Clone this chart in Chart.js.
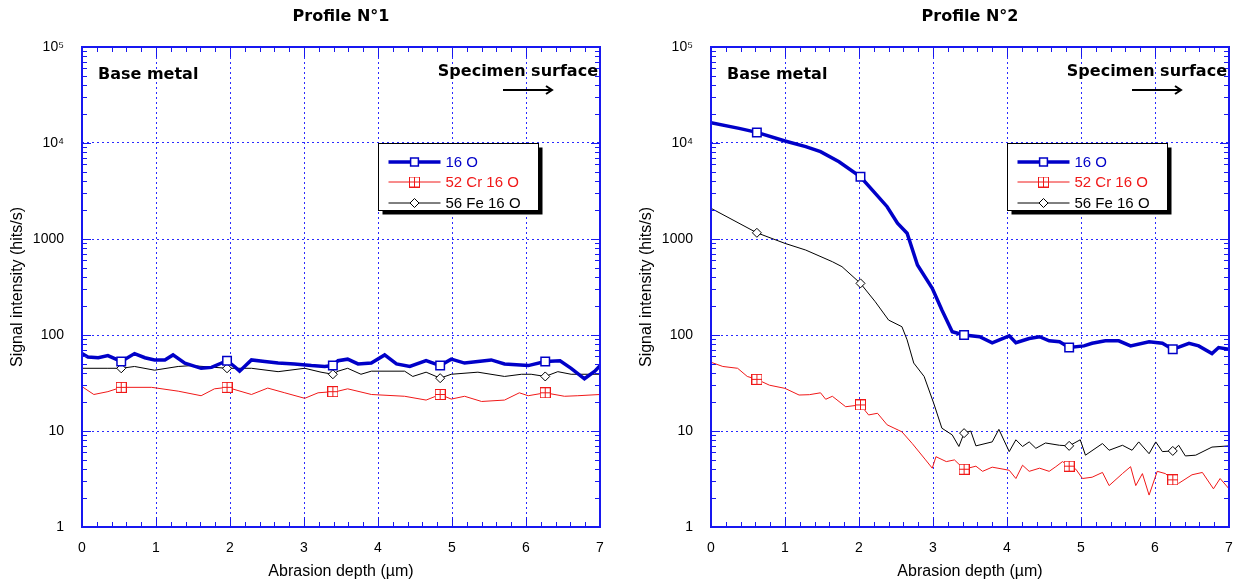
<!DOCTYPE html>
<html>
<head>
<meta charset="utf-8">
<script src="https://cdn.jsdelivr.net/npm/chart.js@4.4.0/dist/chart.umd.min.js"></script>
<style>
  html, body { margin: 0; padding: 0; background: #fff; overflow: hidden; }
  .panel { position: absolute; top: 0; width: 618px; height: 582px; }
  #panel1 { left: 0; }
  #panel2 { left: 629px; }
</style>
</head>
<body>
<div class="panel" id="panel1"><canvas id="chart1" width="618" height="582"></canvas></div>
<div class="panel" id="panel2"><canvas id="chart2" width="618" height="582"></canvas></div>
<script>
// axis ticks
const yTickValues = [1, 10, 100, 1000, 10000, 100000];
const yTickLabels = ['1', '10', '100', '1000', '10⁴', '10⁵'];

// Profile N°1
const p1Markers = [0.53, 1.96, 3.39, 4.84, 6.26];
const p1ODepth = [0, 0.08, 0.22, 0.35, 0.53, 0.71, 0.85, 0.98, 1.12, 1.23, 1.39, 1.61, 1.75, 1.96, 2.06, 2.13, 2.29, 2.47, 2.65, 2.87, 3.1, 3.28, 3.39, 3.46, 3.59, 3.73, 3.91, 4.09, 4.25, 4.43, 4.65, 4.84, 4.99, 5.17, 5.35, 5.53, 5.71, 6.03, 6.26, 6.46, 6.61, 6.79, 6.93, 7.0];
const p1O = [64, 59, 58, 61, 53, 64, 58, 55, 55, 62, 51, 45, 46, 54, 47, 42, 55, 53, 51, 50, 48, 47, 48, 54, 56, 50, 51, 62, 50, 47, 54, 48, 56, 51, 53, 55, 50, 48, 53, 54, 45, 35, 42, 48];
const p1CrODepth = [0, 0.16, 0.35, 0.53, 0.94, 1.3, 1.61, 1.79, 1.96, 2.29, 2.51, 2.74, 3.01, 3.19, 3.39, 3.46, 3.59, 3.91, 4.36, 4.65, 4.84, 4.99, 5.17, 5.4, 5.71, 5.91, 6.03, 6.26, 6.52, 6.7, 7.0];
const p1CrO = [29, 24, 25.7, 28.5, 28.5, 26, 23.3, 27.5, 28.5, 24, 28, 25, 21.9, 25, 25.7, 26, 27.5, 24, 23, 21, 24, 21.5, 23, 20.3, 21, 25, 23.3, 25, 23, 23.3, 24];
const p1FeODepth = [0, 0.35, 0.53, 0.71, 0.98, 1.3, 1.48, 1.96, 2.29, 2.65, 3.01, 3.23, 3.39, 3.46, 3.59, 3.77, 3.91, 4.36, 4.47, 4.65, 4.84, 4.99, 5.35, 5.71, 5.94, 6.07, 6.26, 6.43, 6.61, 7.0];
const p1FeO = [45, 45, 45, 47, 43, 47, 48, 45, 45, 41.5, 45, 41, 39, 42, 45, 39, 42, 42, 37, 41, 35.5, 39, 41, 37, 39, 39, 37, 41.5, 39, 39];

// Profile N°2
const p2Markers = [0.62, 2.02, 3.42, 4.84, 6.24];
const p2ODepth = [0, 0.38, 0.62, 1.0, 1.28, 1.48, 1.73, 2.02, 2.22, 2.38, 2.52, 2.65, 2.79, 2.99, 3.12, 3.26, 3.42, 3.63, 3.80, 4.03, 4.12, 4.30, 4.44, 4.57, 4.71, 4.84, 5.04, 5.15, 5.33, 5.51, 5.67, 5.92, 6.10, 6.24, 6.46, 6.59, 6.77, 6.86, 7.0];
const p2O = [16300, 14200, 12900, 10500, 9160, 8130, 6380, 4450, 2990, 2170, 1460, 1150, 536, 306, 182, 108, 100, 96, 83, 98, 83, 92, 96, 87, 85, 74, 77, 82, 87, 87, 77, 85, 82, 71, 82, 77, 64, 74, 71];
const p2CrODepth = [0, 0.16, 0.36, 0.49, 0.62, 0.79, 1.0, 1.19, 1.33, 1.48, 1.55, 1.64, 1.82, 2.02, 2.13, 2.25, 2.38, 2.58, 2.72, 2.90, 2.99, 3.04, 3.18, 3.29, 3.42, 3.58, 3.67, 3.80, 4.03, 4.12, 4.21, 4.30, 4.44, 4.57, 4.66, 4.75, 4.84, 4.93, 5.02, 5.15, 5.29, 5.38, 5.56, 5.67, 5.74, 5.83, 5.92, 6.03, 6.14, 6.24, 6.32, 6.50, 6.64, 6.79, 6.88, 7.0];
const p2CrO = [52, 47, 45, 37, 34.5, 30, 27.8, 23.7, 23.9, 25, 21.4, 23, 17.9, 18.7, 14.7, 15.3, 11.6, 9.8, 7.4, 5.0, 4.1, 5.4, 4.8, 5.0, 4.0, 4.3, 3.8, 4.2, 3.9, 3.2, 4.4, 3.8, 4.1, 3.8, 4.25, 4.8, 4.3, 4.0, 3.2, 3.3, 3.7, 2.7, 3.6, 4.25, 2.7, 3.6, 2.15, 3.8, 3.6, 3.1, 2.85, 3.5, 3.7, 2.5, 3.2, 2.5];
const p2FeODepth = [0, 0.62, 1.0, 1.28, 1.64, 1.77, 2.02, 2.22, 2.40, 2.58, 2.65, 2.74, 2.88, 3.01, 3.12, 3.26, 3.35, 3.42, 3.51, 3.58, 3.80, 3.89, 4.03, 4.12, 4.21, 4.30, 4.39, 4.52, 4.71, 4.84, 4.99, 5.06, 5.29, 5.38, 5.56, 5.69, 5.78, 5.92, 6.01, 6.10, 6.24, 6.32, 6.41, 6.55, 6.77, 7.0];
const p2FeO = [2090, 1160, 900, 767, 580, 515, 345, 222, 143, 122, 89, 51, 37, 19.4, 10.7, 9.1, 6.9, 9.5, 10, 7.0, 7.7, 10.4, 6.1, 8.1, 6.9, 7.7, 6.6, 7.5, 7.1, 7.0, 8.1, 5.6, 7.4, 6.3, 7.1, 6.3, 7.7, 5.8, 7.7, 6.1, 6.2, 7.1, 5.5, 5.6, 6.8, 7.0];

const frameBlue = '#1818f0';
const gridBlue = '#2a2aff';
const oBlue = '#0000c8';
const crRed = '#f01818';

Chart.defaults.font.family = '"Liberation Sans", Arial, sans-serif';
Chart.defaults.color = '#000';

// little square with a cross inside, used for the Cr marker
function crossBox(color) {
    const c = document.createElement('canvas');
    c.width = 11; c.height = 11;
    const g = c.getContext('2d');
    g.fillStyle = '#fff';
    g.fillRect(0, 0, 11, 11);
    g.strokeStyle = color;
    g.lineWidth = 1;
    g.strokeRect(0.5, 0.5, 10, 10);
    g.beginPath();
    g.moveTo(5.5, 0); g.lineTo(5.5, 11);
    g.moveTo(0, 5.5); g.lineTo(11, 5.5);
    g.stroke();
    return c;
}
const crMarker = crossBox(crRed);

function series(depth, values) {
    return depth.map((d, i) => ({ x: d, y: values[i] }));
}

function makeDatasets(oDepth, o, crDepth, cr, feDepth, fe, markers) {
    const atMarker = r => ctx => (ctx.raw && markers.includes(ctx.raw.x)) ? r : 0;
    return [
        {
            label: '16 O', data: series(oDepth, o),
            borderColor: oBlue, borderWidth: 3.5,
            pointStyle: 'rect', pointRadius: atMarker(6),
            pointBackgroundColor: '#fff', pointBorderColor: oBlue, pointBorderWidth: 1.5
        },
        {
            label: '52 Cr 16 O', data: series(crDepth, cr),
            borderColor: crRed, borderWidth: 1,
            pointStyle: crMarker, pointRadius: atMarker(5.5),
            pointBackgroundColor: '#fff', pointBorderColor: crRed, pointBorderWidth: 1
        },
        {
            label: '56 Fe 16 O', data: series(feDepth, fe),
            borderColor: '#000', borderWidth: 1,
            pointStyle: 'rectRot', pointRadius: atMarker(4.5),
            pointBackgroundColor: '#fff', pointBorderColor: '#000', pointBorderWidth: 1
        }
    ];
}

// frame, inner ticks, legend box and text notes
const decorations = {
    id: 'decorations',
    afterDraw(chart, args, opts) {
        const { ctx, chartArea: a, scales: { x, y } } = chart;
        ctx.save();

        // inner tick marks
        ctx.strokeStyle = frameBlue;
        ctx.lineWidth = 1;
        ctx.beginPath();
        for (let d = 0; d < 5; d++) {
            for (let k = 2; k <= 9; k++) {
                const py = Math.round(y.getPixelForValue(k * Math.pow(10, d))) + 0.5;
                ctx.moveTo(a.left, py); ctx.lineTo(a.left + 5, py);
                ctx.moveTo(a.right, py); ctx.lineTo(a.right - 5, py);
            }
        }
        for (let i = 0; i <= 35; i++) {
            const px = Math.round(x.getPixelForValue(i / 5)) + 0.5;
            const len = i % 5 === 0 ? 10 : 5;
            ctx.moveTo(px, a.bottom); ctx.lineTo(px, a.bottom - len);
            ctx.moveTo(px, a.top); ctx.lineTo(px, a.top + len);
        }
        yTickValues.forEach(v => {
            const py = Math.round(y.getPixelForValue(v)) + 0.5;
            ctx.moveTo(a.left, py); ctx.lineTo(a.left + 9, py);
            ctx.moveTo(a.right, py); ctx.lineTo(a.right - 9, py);
        });
        ctx.stroke();

        // frame
        ctx.lineWidth = 2;
        ctx.strokeRect(a.left, a.top, a.right - a.left, a.bottom - a.top);

        // title
        ctx.fillStyle = '#000';
        ctx.font = 'bold 16px "DejaVu Sans"';
        ctx.textAlign = 'center';
        ctx.textBaseline = 'middle';
        ctx.fillText(opts.title, (a.left + a.right) / 2, 17);

        // notes
        ctx.textAlign = 'left';
        ctx.fillText('Base metal', a.left + 16, a.top + 28);
        ctx.textAlign = 'right';
        ctx.fillText('Specimen surface', a.right - 2, a.top + 25);

        // arrow
        const ay = a.top + 43;
        ctx.strokeStyle = '#000';
        ctx.lineWidth = 2;
        ctx.beginPath();
        ctx.moveTo(a.right - 97, ay); ctx.lineTo(a.right - 48, ay);
        ctx.moveTo(a.right - 54, ay - 4); ctx.lineTo(a.right - 48, ay); ctx.lineTo(a.right - 54, ay + 4);
        ctx.stroke();

        // legend
        const lx = Math.round(x.getPixelForValue(4)) + 0.5;
        const ly = Math.round(y.getPixelForValue(10000)) + 0.5;
        const w = 160, h = 67;
        ctx.fillStyle = '#000';
        ctx.fillRect(lx + 4, ly + 4, w, h);
        ctx.fillStyle = '#fff';
        ctx.fillRect(lx, ly, w, h);
        ctx.lineWidth = 1;
        ctx.strokeRect(lx, ly, w, h);
        ctx.font = '15px "Liberation Sans", Arial';
        ctx.textAlign = 'left';
        chart.data.datasets.forEach((ds, i) => {
            const ry = Math.round(ly + 18 + i * 20.5);
            ctx.strokeStyle = ds.borderColor;
            ctx.lineWidth = ds.borderWidth;
            ctx.beginPath();
            ctx.moveTo(lx + 10, ry); ctx.lineTo(lx + 62, ry);
            ctx.stroke();
            ctx.fillStyle = ds.pointBackgroundColor;
            ctx.strokeStyle = ds.pointBorderColor;
            ctx.lineWidth = ds.pointBorderWidth;
            Chart.helpers.drawPoint(ctx, {
                pointStyle: ds.pointStyle, rotation: 0,
                radius: ds.pointStyle === 'rectRot' ? 4.5 : 5.5,
                borderWidth: ds.pointBorderWidth
            }, lx + 36, ry);
            ctx.fillStyle = ds.borderColor;
            ctx.fillText(ds.label, lx + 67, ry + 1);
        });
        ctx.restore();
    }
};

function makeChart(id, title, datasets) {
    return new Chart(document.getElementById(id), {
        type: 'line',
        data: { datasets: datasets },
        plugins: [decorations],
        options: {
            responsive: false,
            animation: false,
            devicePixelRatio: 1,
            layout: { padding: { top: 47, right: 18, bottom: 0, left: 0 } },
            elements: { line: { tension: 0, fill: false } },
            plugins: {
                legend: { display: false },
                tooltip: { enabled: false },
                decorations: { title: title }
            },
            scales: {
                x: {
                    type: 'linear', min: 0, max: 7,
                    afterFit: s => { s.height = 55; },
                    ticks: { stepSize: 1, padding: 13, font: { size: 14 }, color: '#000' },
                    grid: { color: gridBlue, lineWidth: 1, drawTicks: false },
                    border: { display: false, dash: [2, 3] },
                    title: {
                        display: true, text: 'Abrasion depth (µm)', color: '#000',
                        font: { size: 16 }, padding: { top: 0, bottom: 0.5 }
                    }
                },
                y: {
                    type: 'logarithmic', min: 1, max: 100000,
                    afterBuildTicks: s => { s.ticks = yTickValues.map(v => ({ value: v })); },
                    afterFit: s => { s.width = 82; },
                    ticks: {
                        autoSkip: false, padding: 18, font: { size: 14 }, color: '#000',
                        callback: v => yTickLabels[yTickValues.indexOf(v)]
                    },
                    grid: { color: gridBlue, lineWidth: 1, drawTicks: false },
                    border: { display: false, dash: [2, 3] },
                    title: {
                        display: true, text: 'Signal intensity (hits/s)', color: '#000',
                        font: { size: 16 }, padding: { top: 8.4, bottom: 0 }
                    }
                }
            }
        }
    });
}

makeChart('chart1', 'Profile N°1', makeDatasets(p1ODepth, p1O, p1CrODepth, p1CrO, p1FeODepth, p1FeO, p1Markers));
makeChart('chart2', 'Profile N°2', makeDatasets(p2ODepth, p2O, p2CrODepth, p2CrO, p2FeODepth, p2FeO, p2Markers));
</script>
</body>
</html>
